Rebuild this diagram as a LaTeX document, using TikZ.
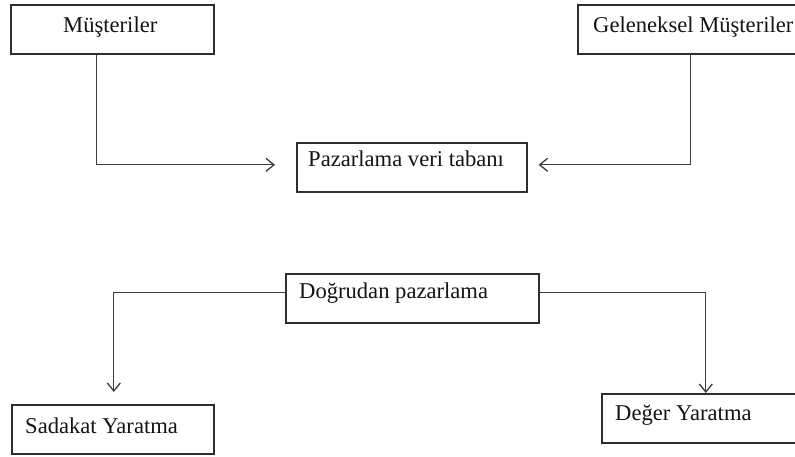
\documentclass[tikz,border=0pt]{standalone}
\usepackage{fontspec}
\setmainfont{Liberation Serif}
\usetikzlibrary{arrows.meta}
\definecolor{edgegray}{HTML}{2E2E2E}
\definecolor{linegray}{HTML}{3C3C3C}
\definecolor{inkcol}{HTML}{141414}
\begin{document}
\begin{tikzpicture}[x=1pt,y=-1pt]
\tikzset{
  frame/.style 2 args={draw=edgegray, line width=1.6pt, inner sep=0pt,
    anchor=north west, minimum width=#1, minimum height=#2},
  txt/.style={anchor=base west, inner sep=0pt, text=inkcol,
    font=\fontsize{22.6}{27}\selectfont},
  link/.style={draw=linegray, line width=1.3pt},
  arr/.style={link, -{Straight Barb[length=8pt,width=13pt,line width=1.3pt]}}
}
\useasboundingbox (0,0) rectangle (795,457);
\clip (0,0) rectangle (795,457);

% boxes and their captions
\node[frame={203pt}{49pt}] (cust) at (10,4) {};
\node[txt] (custT) at (63,33) {Müşteriler};
\node[frame={230pt}{49pt}] (trad) at (577,4) {};
\node[txt] (tradT) at (593,33) {Geleneksel Müşteriler};
\node[frame={230pt}{49pt}] (db) at (296,142) {};
\node[txt] (dbT) at (308,167) {Pazarlama veri tabanı};
\node[frame={253pt}{49pt}] (dm) at (285,273) {};
\node[txt] (dmT) at (299,298) {Doğrudan pazarlama};
\node[frame={202pt}{49pt}] (loy) at (11,404) {};
\node[txt] (loyT) at (25,433) {Sadakat Yaratma};
\node[frame={220pt}{49pt}] (val) at (601,393) {};
\node[txt] (valT) at (615,420) {Değer Yaratma};

% inflows to the marketing database
\draw[arr] ([xshift=-15.5pt]cust.south) |- ([xshift=-21pt,yshift=2.5pt]db.west);
\draw[arr] ([xshift=-2pt]trad.south) |- ([xshift=11pt,yshift=2.5pt]db.east);

% outflows from direct marketing
\draw[arr] ([yshift=5.5pt]dm.west) -| ([xshift=1pt,yshift=12pt]loy.north);
\draw[arr] ([yshift=5.5pt]dm.east) -| ([xshift=-6pt]val.north);
\end{tikzpicture}
\end{document}
